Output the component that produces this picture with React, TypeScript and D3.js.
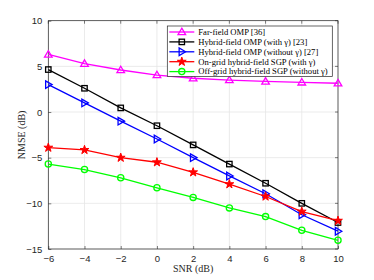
import React, { useRef, useEffect } from 'react';
import * as d3 from 'd3';

// x axis values (SNR, dB)
const snr = [-6, -4, -2, 0, 2, 4, 6, 8, 10];
const xTicks = [-6, -4, -2, 0, 2, 4, 6, 8, 10];
const yTicks = [-15, -10, -5, 0, 5, 10];

// NMSE values (dB)
const farField = [6.3, 5.3, 4.6, 4.05, 3.7, 3.5, 3.35, 3.25, 3.15];
const hybridWith = [4.65, 2.6, 0.45, -1.5, -3.6, -5.7, -7.8, -10.0, -12.1];
const hybridWithout = [3.0, 1.0, -1.0, -2.95, -5.0, -7.0, -8.95, -11.25, -13.05];
const onGrid = [-3.9, -4.15, -5.0, -5.5, -6.6, -7.9, -9.25, -10.9, -11.9];
const offGrid = [-5.7, -6.3, -7.2, -8.3, -9.35, -10.5, -11.45, -12.95, -14.05];

const seriesNames = [
  'Far-field OMP [36]',
  'Hybrid-field OMP (with \u03b3) [23]',
  'Hybrid-field OMP (without \u03b3) [27]',
  'On-grid hybrid-field SGP (with \u03b3)',
  'Off-grid hybrid-field SGP (without \u03b3)',
];
const seriesColors = ['#ff00ff', '#000000', '#0000ff', '#ff0000', '#00ff00'];
const seriesMarkers = ['triUp', 'square', 'triRight', 'star', 'circle'];

const W = 374, H = 280;
const margin = { left: 48.3, right: 36, top: 20.7, bottom: 31 };

function drawMarker(g: any, kind: string, x: number, y: number, color: string) {
  if (kind === 'circle') {
    g.append('circle').attr('cx', x).attr('cy', y).attr('r', 3.1)
      .attr('fill', 'none').attr('stroke', color).attr('stroke-width', 1.3);
  } else if (kind === 'square') {
    g.append('rect').attr('x', x - 2.7).attr('y', y - 2.7).attr('width', 5.4).attr('height', 5.4)
      .attr('fill', 'none').attr('stroke', color).attr('stroke-width', 1.3);
  } else if (kind === 'triUp') {
    const s = 3.8;
    g.append('path').attr('d', `M${x},${y - s}L${x + s},${y + s * 0.7}L${x - s},${y + s * 0.7}Z`)
      .attr('fill', 'none').attr('stroke', color).attr('stroke-width', 1.3);
  } else if (kind === 'triRight') {
    const s = 3.8;
    g.append('path').attr('d', `M${x + s},${y}L${x - s * 0.7},${y - s}L${x - s * 0.7},${y + s}Z`)
      .attr('fill', 'none').attr('stroke', color).attr('stroke-width', 1.3);
  } else if (kind === 'star') {
    const star = d3.symbol().type(d3.symbolStar).size(24);
    g.append('path').attr('d', star()).attr('transform', `translate(${x},${y})`)
      .attr('fill', color).attr('stroke', color).attr('stroke-width', 1);
  }
}

export default function App() {
  const svgRef = useRef<SVGSVGElement>(null);

  useEffect(() => {
    const svg = d3.select(svgRef.current);
    svg.selectAll('*').remove();

    const x = d3.scaleLinear().domain([-6, 10]).range([margin.left, W - margin.right]);
    const y = d3.scaleLinear().domain([-15, 10]).range([H - margin.bottom, margin.top]);
    const x0 = x.range()[0], x1 = x.range()[1];
    const y0 = y.range()[0], y1 = y.range()[1];

    svg.append('rect').attr('x', x0).attr('y', y1).attr('width', x1 - x0).attr('height', y0 - y1)
      .attr('fill', '#fff');

    // grid
    const grid = svg.append('g').attr('stroke', '#e6e6e6').attr('stroke-width', 0.8);
    xTicks.forEach(t => grid.append('line').attr('x1', x(t)).attr('x2', x(t)).attr('y1', y0).attr('y2', y1));
    yTicks.forEach(t => grid.append('line').attr('x1', x0).attr('x2', x1).attr('y1', y(t)).attr('y2', y(t)));

    // axes
    const xAxis = d3.axisBottom(x).tickValues(xTicks).tickSizeInner(-3).tickSizeOuter(0).tickPadding(6);
    const yAxis = d3.axisLeft(y).tickValues(yTicks).tickSizeInner(-3).tickSizeOuter(0).tickPadding(6);
    const gx = svg.append('g').attr('transform', `translate(0,${y0})`).call(xAxis);
    const gy = svg.append('g').attr('transform', `translate(${x0},0)`).call(yAxis);
    [gx, gy].forEach(g => {
      g.select('.domain').remove();
      g.selectAll('line').attr('stroke', '#262626').attr('stroke-width', 0.6);
      g.selectAll('text').attr('fill', '#262626').attr('font-family', 'Liberation Sans, Arial, sans-serif')
        .attr('font-size', 9.5);
    });
    // top/right ticks
    xTicks.forEach(t => svg.append('line').attr('x1', x(t)).attr('x2', x(t)).attr('y1', y1).attr('y2', y1 + 3)
      .attr('stroke', '#262626').attr('stroke-width', 0.6));
    yTicks.forEach(t => svg.append('line').attr('x1', x1).attr('x2', x1 - 3).attr('y1', y(t)).attr('y2', y(t))
      .attr('stroke', '#262626').attr('stroke-width', 0.6));

    svg.append('rect').attr('x', x0).attr('y', y1).attr('width', x1 - x0).attr('height', y0 - y1)
      .attr('fill', 'none').attr('stroke', '#262626').attr('stroke-width', 0.7);

    // series
    const allSeries = [farField, hybridWith, hybridWithout, onGrid, offGrid];
    const line = d3.line<number>().x((d, i) => x(snr[i])).y(d => y(d));
    allSeries.forEach((vals, k) => {
      const g = svg.append('g');
      g.append('path').attr('d', line(vals)).attr('fill', 'none')
        .attr('stroke', seriesColors[k]).attr('stroke-width', 1.3);
      vals.forEach((v, i) => drawMarker(g, seriesMarkers[k], x(snr[i]), y(v), seriesColors[k]));
    });

    // legend
    const lx = 167.3, ly = 26, lw = 165, lh = 50.5;
    const lg = svg.append('g');
    lg.append('rect').attr('x', lx).attr('y', ly).attr('width', lw).attr('height', lh)
      .attr('fill', '#fff').attr('stroke', '#262626').attr('stroke-width', 0.7);
    seriesNames.forEach((name, k) => {
      const yy = ly + 6 + k * 9.9;
      lg.append('line').attr('x1', lx + 2).attr('x2', lx + 27).attr('y1', yy).attr('y2', yy)
        .attr('stroke', seriesColors[k]).attr('stroke-width', 1.3);
      drawMarker(lg, seriesMarkers[k], lx + 14.5, yy, seriesColors[k]);
      lg.append('text').attr('x', lx + 31).attr('y', yy).attr('dy', '0.33em')
        .attr('font-family', 'Liberation Serif, Times New Roman, serif').attr('font-size', 8.6)
        .attr('fill', '#000').text(name);
    });

    // axis labels
    svg.append('text').attr('x', (x0 + x1) / 2).attr('y', 272).attr('text-anchor', 'middle')
      .attr('font-family', 'Liberation Serif, Times New Roman, serif').attr('font-size', 10)
      .attr('fill', '#262626').text('SNR (dB)');
    svg.append('text').attr('transform', `translate(25,${(y0 + y1) / 2}) rotate(-90)`)
      .attr('text-anchor', 'middle')
      .attr('font-family', 'Liberation Serif, Times New Roman, serif').attr('font-size', 10)
      .attr('fill', '#262626').text('NMSE (dB)');
  }, []);

  return (
    <svg ref={svgRef} width={W} height={H}
      style={{ position: 'absolute', left: 0, top: 0, background: '#fff' }} />
  );
}
